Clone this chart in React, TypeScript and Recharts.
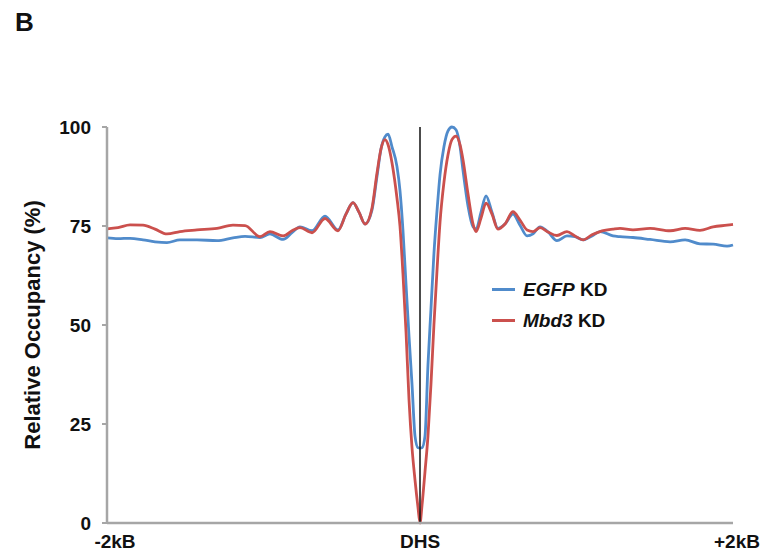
import React from 'react';
import {
  LineChart,
  Line,
  XAxis,
  YAxis,
  ReferenceLine
} from 'recharts';

// distance from the DHS centre, in bp
const positions = [
  -2000, -1930, -1853, -1770, -1693, -1617, -1534, -1425, -1297, -1195,
  -1118, -1022, -959, -875, -818, -767, -690, -607, -524, -473,
  -428, -390, -351, -307, -275, -249, -224, -204, -179, -147,
  -128, -109, -89, -70, -51, -32, -13, 0, 13, 32,
  51, 70, 89, 109, 128, 153, 179, 204, 230, 256,
  275, 307, 339, 358, 390, 422, 460, 498, 543, 594,
  639, 684, 722, 767, 818, 875, 939, 990, 1042, 1099,
  1150, 1233, 1278, 1361, 1470, 1598, 1694, 1789, 1873, 1962,
  2000
];

const egfpKD = [
  72.0, 71.8, 71.9, 71.5, 71.0, 70.8, 71.5, 71.5, 71.3, 72.0,
  72.4, 72.1, 73.0, 71.6, 73.3, 74.8, 73.8, 77.5, 74.0, 78.0,
  80.9, 78.5, 75.5, 79.0, 87.5, 94.5, 97.5, 98.2, 95.0, 90.0,
  84.0, 74.0, 60.0, 47.0, 35.0, 22.0, 19.0, 18.9, 19.0, 22.0,
  40.0, 54.0, 68.0, 79.0, 88.0, 95.0, 99.0, 100.0, 99.3, 95.0,
  89.0, 80.0, 74.8, 74.2, 78.5, 82.6, 78.5, 74.4, 75.5, 78.0,
  75.2, 72.5, 73.0, 74.8, 73.5, 71.3, 72.5, 72.3, 71.5, 72.5,
  73.6, 72.5, 72.3, 72.1, 71.6, 71.0, 71.5, 70.5, 70.4, 69.9,
  70.2
];

const mbd3KD = [
  74.3, 74.6, 75.3, 75.2, 74.2, 73.0, 73.6, 74.0, 74.4, 75.2,
  75.1, 72.3, 73.6, 72.5, 73.8, 74.6, 73.3, 76.9, 73.8, 78.0,
  80.9, 78.5, 75.5, 79.5, 88.3, 94.5, 96.8, 95.5, 91.0, 82.0,
  75.0, 63.0, 48.0, 31.0, 19.0, 10.9, 4.0, 0.0, 4.5, 13.0,
  22.0, 35.0, 50.0, 64.0, 76.0, 86.0, 93.0, 96.8, 97.7, 95.5,
  91.7, 83.0, 75.5, 73.6, 77.0, 80.8, 78.0, 74.2, 75.5, 78.6,
  76.5, 74.0, 73.6, 74.6, 73.5, 72.6, 73.6, 72.5, 71.5, 72.8,
  73.6, 74.2, 74.4, 74.0, 74.4, 73.8, 74.4, 73.9, 74.8, 75.2,
  75.4
];

const yTicks = [0, 25, 50, 75, 100];
const xTicks = [-2000, 0, 2000];
const xTickLabels: Record<string, string> = { '-2000': '-2kB', '0': 'DHS', '2000': '+2kB' };

const BLUE = '#508bcb';
const RED = '#cb504d';
const AXIS = '#a6a6a6';
const FONT = '"Liberation Sans", Arial, Helvetica, sans-serif';

const data = positions.map((x, i) => ({ x, egfp: egfpKD[i], mbd3: mbd3KD[i] }));

const XTick = ({ x, y, payload }: any) => {
  const v = payload.value;
  const shift = v === -2000 ? 8 : v === 2000 ? 4 : 0;
  return (
    <text
      x={x + shift}
      y={y + 17}
      textAnchor="middle"
      fontFamily={FONT}
      fontWeight="bold"
      fontSize={19}
      fill="#111"
    >
      {xTickLabels[String(v)]}
    </text>
  );
};

const legendItems = [
  { color: BLUE, name: 'EGFP' },
  { color: RED, name: 'Mbd3' }
];

export default function App() {
  return (
    <div style={{ position: 'absolute', left: 0, top: 0, width: 769, height: 557, background: '#fff' }}>
      <div style={{
        position: 'absolute', left: 15, top: 7, fontFamily: FONT, fontWeight: 'bold', fontSize: 26, color: '#111', lineHeight: '30px'
      }}>
        B
      </div>
      <LineChart
        width={769}
        height={557}
        data={data}
        margin={{ top: 127, right: 36, bottom: 0, left: 0 }}
      >
        <XAxis
          dataKey="x"
          type="number"
          domain={[-2000, 2000]}
          ticks={xTicks}
          tick={<XTick />}
          tickLine={false}
          axisLine={{ stroke: AXIS, strokeWidth: 2.5 }}
          height={34}
        />
        <YAxis
          type="number"
          domain={[0, 100]}
          ticks={yTicks}
          width={107}
          tickSize={5}
          tickMargin={11}
          tickLine={{ stroke: AXIS, strokeWidth: 2 }}
          axisLine={{ stroke: AXIS, strokeWidth: 2.5 }}
          tick={{ fill: '#111', fontSize: 19, fontWeight: 'bold', fontFamily: FONT }}
          label={{
            value: 'Relative Occupancy (%)',
            angle: -90,
            position: 'insideLeft',
            dx: 27,
            style: { textAnchor: 'middle', fill: '#111', fontSize: 22, fontWeight: 'bold', fontFamily: FONT }
          }}
        />
        <Line
          type="monotone"
          dataKey="egfp"
          stroke={BLUE}
          strokeWidth={2.8}
          dot={false}
          isAnimationActive={false}
        />
        <Line
          type="monotone"
          dataKey="mbd3"
          stroke={RED}
          strokeWidth={2.8}
          dot={false}
          isAnimationActive={false}
        />
        <ReferenceLine x={0} stroke="#111" strokeWidth={1.5} />
      </LineChart>
      <div style={{
        position: 'absolute', left: 492, top: 274, fontFamily: FONT, fontWeight: 'bold', fontSize: 19, color: '#111', lineHeight: '31px'
      }}>
        {legendItems.map(item => (
          <div key={item.name} style={{ display: 'flex', alignItems: 'center' }}>
            <span style={{ display: 'inline-block', width: 23, height: 3, background: item.color, marginRight: 8 }} />
            <span><i>{item.name}</i> KD</span>
          </div>
        ))}
      </div>
    </div>
  );
}
